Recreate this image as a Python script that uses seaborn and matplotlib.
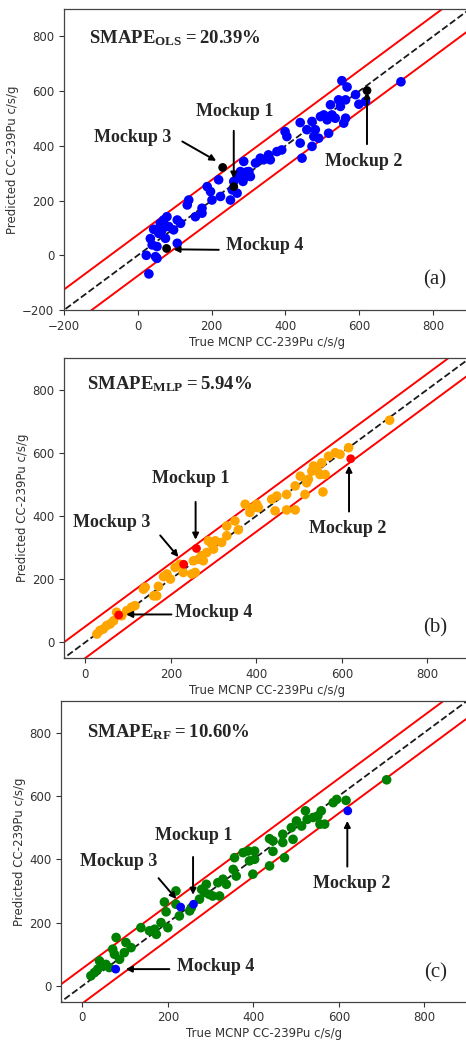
import matplotlib
matplotlib.use('Agg')
import matplotlib.pyplot as plt
import seaborn as sns
import pandas as pd

# (a) OLS predictions
ols_true = [30, 23, 34, 43, 48, 52, 39, 57, 61, 70, 79, 84, 75, 97, 107, 116, 107, 52, 66,
            138, 134, 156, 174, 174, 188, 197, 201, 224, 219, 251, 256, 260, 269, 278, 287,
            292, 301, 305, 319, 332, 341, 359, 354, 377, 390, 399, 404, 440, 445, 440, 458,
            472, 477, 481, 490, 495, 504, 513, 517, 522, 526, 535, 544, 549, 558, 563, 553,
            567, 590, 599, 617, 713, 563, 472, 270, 296, 285]
ols_pred = [-68, 0, 61, 95, -5, -11, 38, 80, 117, 129, 141, 105, 62, 93, 129, 117, 44, 32, 93,
            202, 184, 141, 154, 172, 251, 233, 202, 215, 276, 202, 239, 270, 227, 306, 343,
            288, 306, 288, 337, 355, 349, 349, 367, 379, 385, 452, 434, 410, 355, 485, 459,
            489, 434, 459, 428, 507, 513, 495, 446, 550, 513, 501, 568, 544, 483, 501, 638,
            615, 587, 552, 562, 634, 568, 398, 290, 305, 270]

# (b) MLP predictions
mlp_true = [27, 34, 42, 50, 58, 66, 73, 85, 97, 108, 116, 136, 140, 160, 167, 171, 183, 191,
            199, 210, 221, 229, 249, 257, 253, 265, 272, 276, 284, 288, 296, 304, 300, 319,
            331, 331, 350, 358, 374, 385, 401, 405, 393, 436, 444, 448, 471, 471, 491, 491,
            503, 514, 522, 530, 542, 549, 553, 556, 561, 569, 585, 596, 616, 712, 534, 518]
mlp_pred = [26, 37, 42, 53, 58, 68, 95, 84, 100, 111, 116, 168, 174, 147, 147, 177, 208, 216,
            200, 237, 247, 221, 216, 221, 258, 263, 274, 258, 284, 321, 311, 321, 295, 316,
            337, 368, 384, 356, 437, 411, 437, 426, 426, 453, 416, 463, 468, 419, 419, 495,
            526, 468, 516, 542, 547, 531, 568, 476, 531, 589, 600, 595, 616, 703, 558, 505]

# (c) RF predictions
rf_true = [20, 28, 36, 40, 48, 55, 63, 71, 79, 75, 87, 98, 102, 114, 137, 157, 169, 173, 184,
           192, 196, 200, 219, 219, 227, 251, 255, 274, 279, 286, 290, 297, 305, 321, 317,
           329, 337, 353, 356, 360, 376, 388, 391, 403, 403, 399, 438, 438, 446, 446, 469,
           469, 473, 489, 493, 501, 513, 522, 526, 540, 551, 556, 559, 567, 587, 595, 617, 712]
rf_pred = [32, 42, 53, 79, 63, 68, 58, 116, 153, 100, 84, 105, 137, 121, 184, 174, 179, 163, 200,
           265, 234, 184, 300, 258, 221, 237, 247, 274, 305, 295, 321, 289, 284, 284, 326,
           337, 321, 368, 405, 347, 421, 426, 395, 426, 400, 353, 465, 379, 458, 425, 479,
           453, 405, 500, 463, 521, 505, 553, 526, 532, 537, 511, 553, 511, 579, 589, 586, 651]

# mockups 1-4
mock_true = [260, 621, 230, 78]
mock_ols = [251, 602, 321, 25]
mock_mlp = [297, 581, 247, 86]
mock_rf = [258, 553, 249, 53]

models = ['OLS', 'MLP', 'RF']
smape = ['20.39', '5.94', '10.60']
panel_tags = ['(a)', '(b)', '(c)']

sns.set_theme(style='ticks')
plt.rcParams['mathtext.fontset'] = 'custom'
plt.rcParams['mathtext.rm'] = 'Liberation Serif'
plt.rcParams['mathtext.bf'] = 'Liberation Serif:bold'

fig = plt.figure(figsize=(4.66, 10.45), dpi=100)
axes = [fig.add_axes([0.1373, 0.7033, 0.8712, 0.2881]),
        fig.add_axes([0.1373, 0.3703, 0.8712, 0.2871]),
        fig.add_axes([0.1309, 0.0414, 0.8712, 0.2878])]

panels = [
    (ols_true, ols_pred, mock_ols, 'blue', 'black', 75, (-200, 900), [-200, 0, 200, 400, 600, 800]),
    (mlp_true, mlp_pred, mock_mlp, 'orange', 'red', 50, (-50, 900), [0, 200, 400, 600, 800]),
    (rf_true, rf_pred, mock_rf, 'green', 'blue', 55, (-50, 900), [0, 200, 400, 600, 800]),
]

# text placement per panel: label centre, arrow start, arrow tip (data coords)
mock_text = [
    [((262, 524), (260, 465), (260, 270)),
     ((611, 344), (621, 396), (621, 608)),
     ((-14, 432), (114, 421), (219, 340)),
     ((343, 37), (227, 20), (89, 22))],
    [((246, 520), (258, 453), (258, 316)),
     ((615, 361), (617, 405), (617, 568)),
     ((62, 378), (171, 345), (222, 263)),
     ((301, 94), (208, 88), (89, 88))],
    [((261, 475), (259, 416), (259, 279)),
     ((630, 324), (620, 368), (620, 530)),
     ((84, 392), (174, 347), (224, 268)),
     ((312, 60), (210, 53), (95, 53))],
]
smape_pos = [(-132, 795), (5, 818), (11, 803)]
tag_pos = [(805, -88), (819, 44), (826, 40)]

for i, ax in enumerate(axes):
    xt, yp, mp, col, mcol, band, lim, ticks = panels[i]
    df = pd.DataFrame({'true': xt, 'pred': yp})
    dm = pd.DataFrame({'true': mock_true, 'pred': mp})
    sns.scatterplot(data=df, x='true', y='pred', color=col, s=48, edgecolor='none', ax=ax, zorder=3)
    sns.scatterplot(data=dm, x='true', y='pred', color=mcol, s=40, edgecolor='none', ax=ax, zorder=4)
    ref = [lim[0] - 100, 1000]
    ax.plot(ref, ref, 'k--', lw=1.3, zorder=2)
    ax.plot(ref, [v + band for v in ref], color='red', lw=1.4, zorder=2)
    ax.plot(ref, [v - band for v in ref], color='red', lw=1.4, zorder=2)
    ax.set_xlim(lim)
    ax.set_ylim(lim)
    ax.set_xticks(ticks)
    ax.set_yticks(ticks)
    ax.tick_params(labelsize=8.5, colors='#333333', length=3.5, width=0.8)
    ax.set_xlabel('True MCNP CC-239Pu c/s/g', fontsize=8.5, color='#333333', labelpad=2)
    ax.set_ylabel('Predicted CC-239Pu c/s/g', fontsize=8.5, color='#333333', labelpad=2)
    for s in ax.spines.values():
        s.set_color('#444444')
        s.set_linewidth(0.9)

    ax.text(smape_pos[i][0], smape_pos[i][1],
            r'$\mathbf{SMAPE_{%s} = %s\%%}$' % (models[i], smape[i]),
            fontsize=13.5, ha='left', va='center')
    for k, (tpos, start, tip) in enumerate(mock_text[i]):
        ax.text(tpos[0], tpos[1], 'Mockup %d' % (k + 1), family='Liberation Serif',
                fontweight='bold', fontsize=13, ha='center', va='center')
        ax.annotate('', xy=tip, xytext=start,
                    arrowprops=dict(arrowstyle='-|>', color='black', lw=1.4, mutation_scale=9))
    ax.text(tag_pos[i][0], tag_pos[i][1], panel_tags[i], family='Liberation Serif',
            fontsize=15, ha='center', va='center')

fig.savefig('out.png', dpi=100)
